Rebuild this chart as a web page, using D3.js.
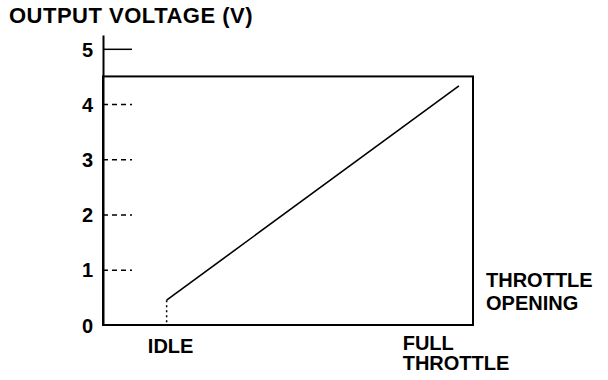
<!DOCTYPE html>
<html>
<head>
<meta charset="utf-8">
<script src="https://cdn.jsdelivr.net/npm/d3@7"></script>
<style>
  body { margin: 0; background: #fff; }
  svg text { font-family: "Liberation Sans", Arial, sans-serif; font-weight: bold; fill: #000; }
</style>
</head>
<body>
<svg></svg>
<script>
const width = 608;
const height = 380;

// chart values
const voltageTicks = [0, 1, 2, 3, 4, 5];
const throttlePoints = [17.2, 96.2];          // throttle opening (% of travel)
const outputVolts = [0.45, 4.33];            // sensor output (V)
const maxVolts = 4.5;                         // top of the plotted frame
const xLabels = [
  { value: 17.2, lines: ["IDLE"] },
  { value: 81, lines: ["FULL", "THROTTLE"] }
];
const axisTitle = "OUTPUT VOLTAGE (V)";
const xTitle = ["THROTTLE", "OPENING"];

const svg = d3.select("svg").attr("width", width).attr("height", height);

const x = d3.scaleLinear().domain([0, 100]).range([103, 473]);
const y = d3.scaleLinear().domain([0, 5.25]).range([325, 35]);

// y axis with short inward ticks
const yAxis = d3.axisLeft(y)
  .tickValues(voltageTicks)
  .tickFormat(d3.format("d"))
  .tickSizeInner(-29)
  .tickSizeOuter(0)
  .tickPadding(10);

const gy = svg.append("g")
  .attr("transform", `translate(${x(0)},0)`)
  .call(yAxis);

gy.select(".domain").attr("stroke", "#000").attr("stroke-width", 2);
gy.selectAll(".tick line")
  .attr("stroke", "#000")
  .attr("stroke-width", 1.5)
  .attr("stroke-dasharray", d => d == 5 ? null : "5,4");
gy.selectAll(".tick text")
  .attr("font-size", 20)
  .attr("dy", "0.36em")
  .style("font-family", "Liberation Sans, Arial, sans-serif")
  .style("font-weight", "bold");
gy.selectAll(".tick").filter(d => d == 0).select("line").remove();

// frame
svg.append("rect")
  .attr("x", x(0))
  .attr("y", y(maxVolts))
  .attr("width", x(100) - x(0))
  .attr("height", y(0) - y(maxVolts))
  .attr("fill", "none")
  .attr("stroke", "#000")
  .attr("stroke-width", 2);

// characteristic line
const data = throttlePoints.map((t, i) => ({ t, v: outputVolts[i] }));
const line = d3.line().x(d => x(d.t)).y(d => y(d.v));

svg.append("path")
  .datum(data)
  .attr("d", line)
  .attr("fill", "none")
  .attr("stroke", "#000")
  .attr("stroke-width", 1.6);

// dotted drop from idle point
svg.append("line")
  .attr("x1", x(data[0].t)).attr("x2", x(data[0].t))
  .attr("y1", y(data[0].v)).attr("y2", y(0))
  .attr("stroke", "#000")
  .attr("stroke-width", 1.5)
  .attr("stroke-dasharray", "2,3");

// titles
svg.append("text")
  .attr("x", 9)
  .attr("y", 23)
  .attr("font-size", 22)
  .attr("letter-spacing", 0.5)
  .text(axisTitle);

svg.append("text")
  .attr("x", 486)
  .attr("y", 287)
  .attr("font-size", 20)
  .selectAll("tspan")
  .data(xTitle)
  .join("tspan")
  .attr("x", 486)
  .attr("dy", (d, i) => i ? 23 : 0)
  .text(d => d);

// x labels
xLabels.forEach(l => {
  const t = svg.append("text")
    .attr("y", l.lines.length > 1 ? 350 : 353)
    .attr("font-size", 20)
    .attr("text-anchor", l.lines.length > 1 ? "start" : "middle");
  t.selectAll("tspan")
    .data(l.lines)
    .join("tspan")
    .attr("x", l.lines.length > 1 ? x(l.value) : x(l.value) + 4)
    .attr("dy", (d, i) => i ? 20 : 0)
    .text(d => d);
});
</script>
</body>
</html>
